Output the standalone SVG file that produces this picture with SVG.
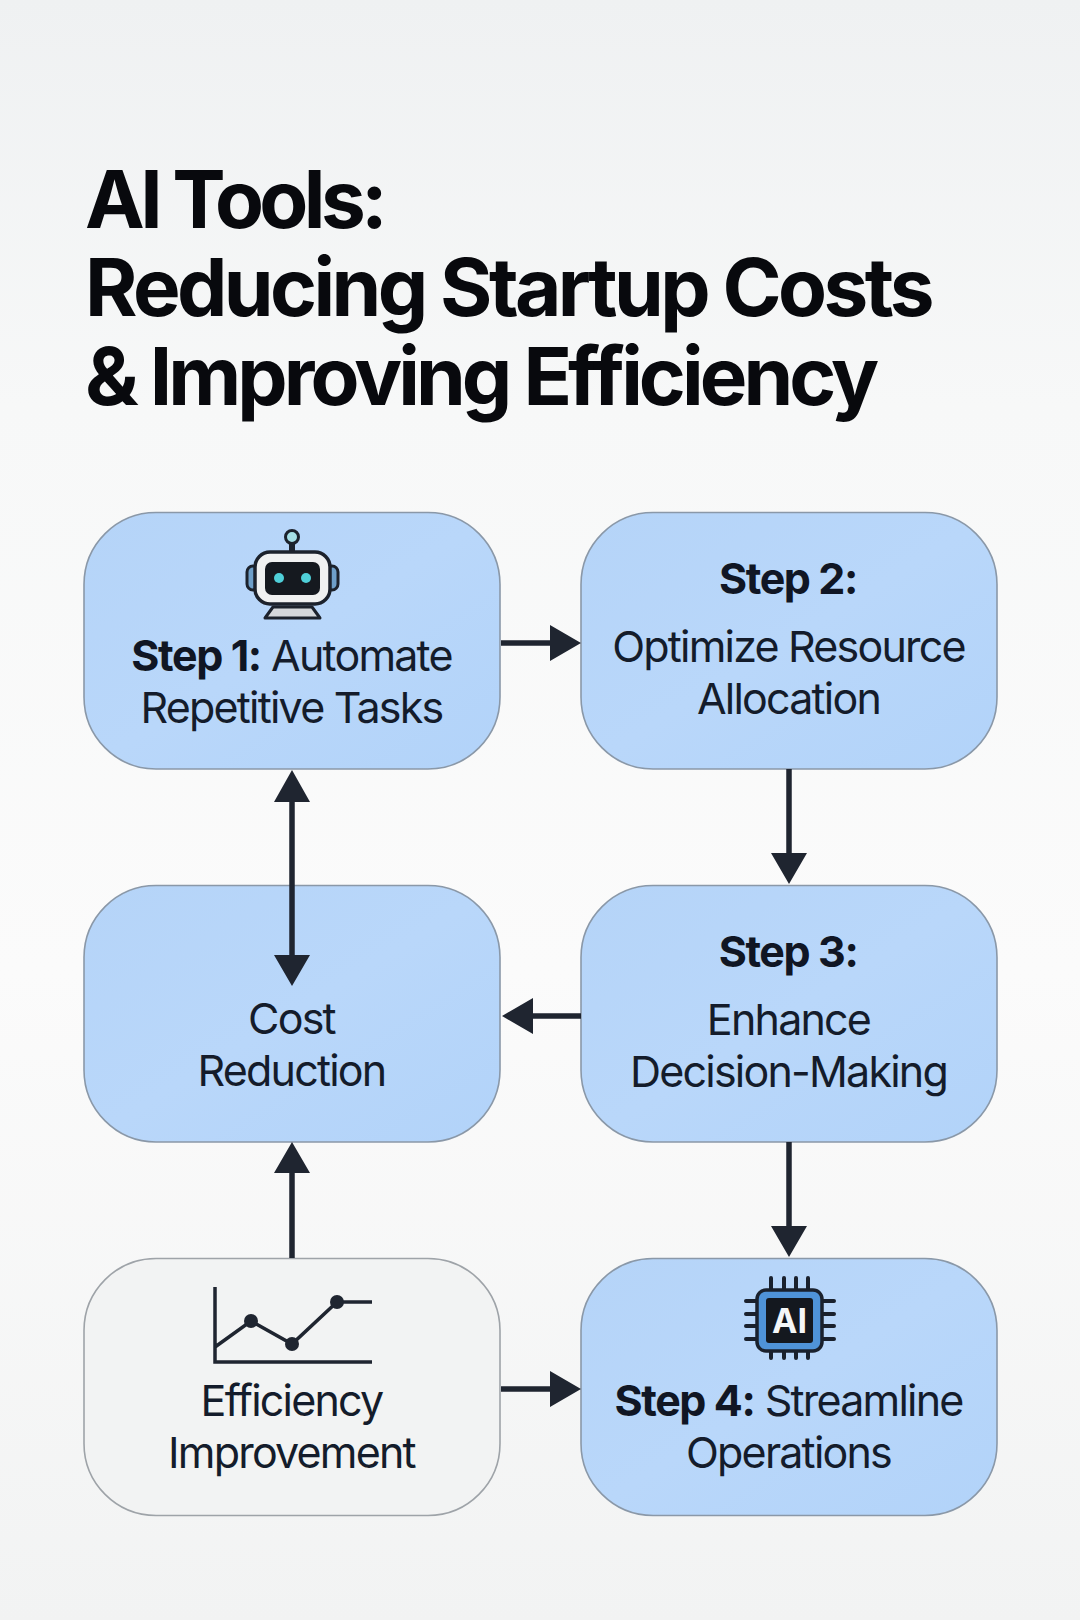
<svg xmlns="http://www.w3.org/2000/svg" width="1080" height="1620" viewBox="0 0 1080 1620">
<style>
text{font-family:Inter,"Liberation Sans",sans-serif}
.t{font-size:80px;font-weight:700;fill:#08090d}
.l{font-size:43px;fill:#141c2b;text-anchor:middle;letter-spacing:-1.8px}
.b{font-weight:700;fill:#101624;letter-spacing:-1.4px}
.blue{fill:url(#bf);stroke:#8a98a8;stroke-width:1.6}
.gray{fill:#f2f3f3;stroke:#9ea3a8;stroke-width:1.6}
.c{fill:none;stroke:#1f2530;stroke-width:5.500}
.h{fill:#1f2530}
</style>
<defs>
<linearGradient id="bg" x1="0" y1="0" x2="0" y2="1"><stop offset="0" stop-color="#eff1f2"/><stop offset=".25" stop-color="#f7f8f8"/><stop offset=".6" stop-color="#fbfbfb"/><stop offset="1" stop-color="#f2f3f3"/></linearGradient>
<linearGradient id="bf" x1="0" y1="0" x2="1" y2="1"><stop offset="0" stop-color="#b5d4f8"/><stop offset=".5" stop-color="#b9d7fa"/><stop offset="1" stop-color="#b2d3f9"/></linearGradient>
</defs>
<rect width="1080" height="1620" fill="url(#bg)"/>
<g id="title"><text class="t" x="85" y="228" letter-spacing="-4.600">AI Tools:</text><text class="t" x="85" y="316" letter-spacing="-3.600">Reducing Startup Costs</text><text class="t" x="85" y="405" letter-spacing="-3.950">&amp; Improving Efficiency</text></g>
<g id="step1"><rect class="blue" x="84" y="512.500" width="416" height="256.500" rx="72"/>
<g id="robot">
<path d="M292 544V554" stroke="#1c222c" stroke-width="6"/>
<circle cx="292" cy="537" r="6.500" fill="#a5dfe6" stroke="#1c222c" stroke-width="3"/>
<rect x="247" y="566" width="12" height="24" rx="6" fill="#6e9fc9" stroke="#1c222c" stroke-width="3"/>
<rect x="326" y="566" width="12" height="24" rx="6" fill="#6e9fc9" stroke="#1c222c" stroke-width="3"/>
<rect x="255" y="552" width="75" height="52" rx="15" fill="#f0f1f1" stroke="#1c222c" stroke-width="3.500"/>
<rect x="265" y="562" width="55" height="33" rx="7" fill="#15191f"/>
<circle cx="279" cy="578" r="5" fill="#4fcfd8"/><circle cx="306" cy="578" r="5" fill="#4fcfd8"/>
<path d="M273 607H312L320 618H265Z" fill="#d5d8db" stroke="#1c222c" stroke-width="3" stroke-linejoin="round"/>
</g>
<text class="l" x="291.500" y="671"><tspan class="b">Step 1:</tspan> Automate</text><text class="l" x="291.500" y="723">Repetitive Tasks</text></g>
<g id="step2"><rect class="blue" x="581" y="512.500" width="416" height="256.500" rx="72"/>
<text class="l b" x="788" y="594">Step 2:</text><text class="l" x="788.500" y="662">Optimize Resource</text><text class="l" x="788.500" y="714">Allocation</text></g>
<g id="cost"><rect class="blue" x="84" y="885.500" width="416" height="256.500" rx="72"/>
<text class="l" x="291.500" y="1034">Cost</text><text class="l" x="291.500" y="1086">Reduction</text></g>
<g id="step3"><rect class="blue" x="581" y="885.500" width="416" height="256.500" rx="72"/>
<text class="l b" x="788" y="967">Step 3:</text><text class="l" x="788.500" y="1035">Enhance</text><text class="l" x="788.500" y="1087">Decision-Making</text></g>
<g id="efficiency"><rect class="gray" x="84" y="1258.500" width="416" height="257" rx="72"/>
<g id="chart" stroke="#1f2530" fill="none" stroke-width="3.500"><path d="M215 1287V1362H372M215 1347L251 1321L292 1344L337 1302H372"/><g fill="#1f2530" stroke="none"><circle cx="251" cy="1321" r="7"/><circle cx="292" cy="1344" r="7"/><circle cx="337" cy="1302" r="7"/></g></g>
<text class="l" x="291.500" y="1416">Efficiency</text><text class="l" x="291.500" y="1468">Improvement</text></g>
<g id="step4"><rect class="blue" x="581" y="1258.500" width="416" height="257" rx="72"/>
<g id="chip"><path d="M771 1278V1290M784 1278V1290M796 1278V1290M808 1278V1290M771 1350V1358M784 1350V1358M796 1350V1358M808 1350V1358M746 1301H758M746 1314H758M746 1326H758M746 1339H758M822 1301H834M822 1314H834M822 1326H834M822 1339H834" stroke="#1a212d" stroke-width="4" stroke-linecap="round"/>
<rect x="757" y="1290" width="65" height="61" rx="9" fill="#4f93d8" stroke="#1a212d" stroke-width="3.500"/>
<rect x="766" y="1298" width="47" height="45" rx="3" fill="#14181f"/>
<text x="789.500" y="1333" font-size="34" font-weight="700" fill="#f4f6f8" text-anchor="middle">AI</text></g>
<text class="l" x="788.500" y="1416"><tspan class="b">Step 4:</tspan> Streamline</text><text class="l" x="788.500" y="1468">Operations</text></g>
<g id="connectors">
<path class="c" d="M501 643H552M789 769V856M581 1016H530M789 1142V1228M292 1258V1170M292 800V955M501 1389H552"/>
<path class="h" d="M581 643L550 625V661ZM789 884L771 853H807ZM502 1016L533 998V1034ZM789 1257L771 1226H807ZM292 1142L274 1173H310ZM292 770L274 802H310ZM292 986L274 955H310ZM581 1389L550 1371V1407Z"/>
</g>
</svg>
